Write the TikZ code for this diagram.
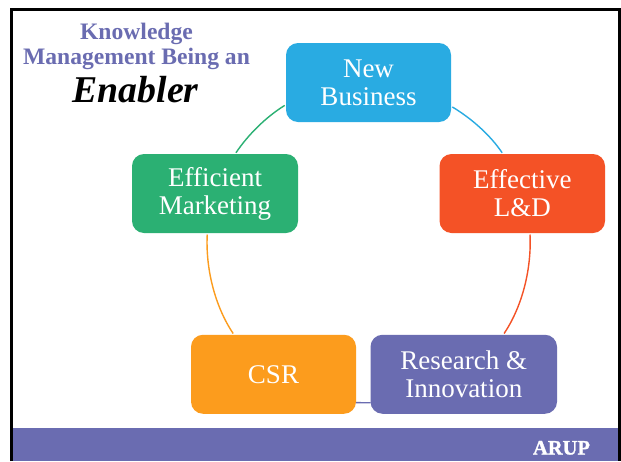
\documentclass[tikz,border=0pt]{standalone}
\usepackage{fontspec}
\setmainfont{Liberation Serif}
\newfontfamily\heavyfont[BoldFeatures={FakeBold=1.5}]{Liberation Serif}
\definecolor{cblue}{HTML}{29ABE2}
\definecolor{cgreen}{HTML}{2BB073}
\definecolor{cred}{HTML}{F45226}
\definecolor{corange}{HTML}{FC9C1D}
\definecolor{cpurple}{HTML}{6A6CB1}
\tikzset{
  card/.style={rounded corners=12pt,inner sep=0pt,outer sep=0pt,text=white,align=center,
    font=\fontsize{27}{28}\selectfont,minimum height=79pt},
  link/.style={line width=1.4pt,looseness=0.85,shorten <=1.5pt,shorten >=1.5pt}
}
\begin{document}
\begin{tikzpicture}[x=1pt,y=-1pt]
\useasboundingbox (0,0) rectangle (621,461);
\fill[white] (0,0) rectangle (621,461);
\node[fill=cpurple,minimum width=607pt,minimum height=33pt,inner sep=0pt,anchor=north west] (band) at (12,428) {};
\draw[black,line width=2.5pt] (11.5,461) -- (11.5,9.5) -- (619.5,9.5) -- (619.5,461);
\node[text=white,font=\heavyfont\bfseries\fontsize{20.5}{20.5}\selectfont,anchor=base] (arup) at (561.5,454.5) {ARUP};
\node[text=cpurple,font=\bfseries\fontsize{23.6}{25}\selectfont,align=center] (title) at (136.5,46) {Knowledge\\Management Being an};
\node[text=black,font=\bfseries\itshape\fontsize{37.8}{38}\selectfont,anchor=base] (enabler) at (135.5,102.5) {Enabler};
\node[card,fill=cblue,minimum width=165pt] (nb) at (368.5,82.5) {New\\Business};
\node[card,fill=cgreen,minimum width=166pt] (em) at (215,193.5) {Efficient\\Marketing};
\node[card,fill=cred,minimum width=165.5pt] (el) at (522.25,193.5) {Effective\\L\&D};
\node[card,fill=corange,minimum width=165pt] (csr) at (273.5,374.25) {CSR};
\node[card,fill=cpurple,minimum width=186.5pt] (ri) at (463.75,374.25) {Research \&\\Innovation};
\draw[link,cblue] (nb.-16) to[out=-31,in=124] (el.116);
\draw[link,cgreen] (nb.195.5) to[out=211.8,in=56] (em.63.7);
\draw[link,corange] (em.259) to[out=267,in=123.8] (csr.135);
\draw[link,cred] (el.-79) to[out=-87.2,in=56.1] (ri.45);
\draw[link,cpurple,shorten <=0pt,shorten >=0pt] (csr.-19.8) -- (ri.197.7);
\end{tikzpicture}
\end{document}
